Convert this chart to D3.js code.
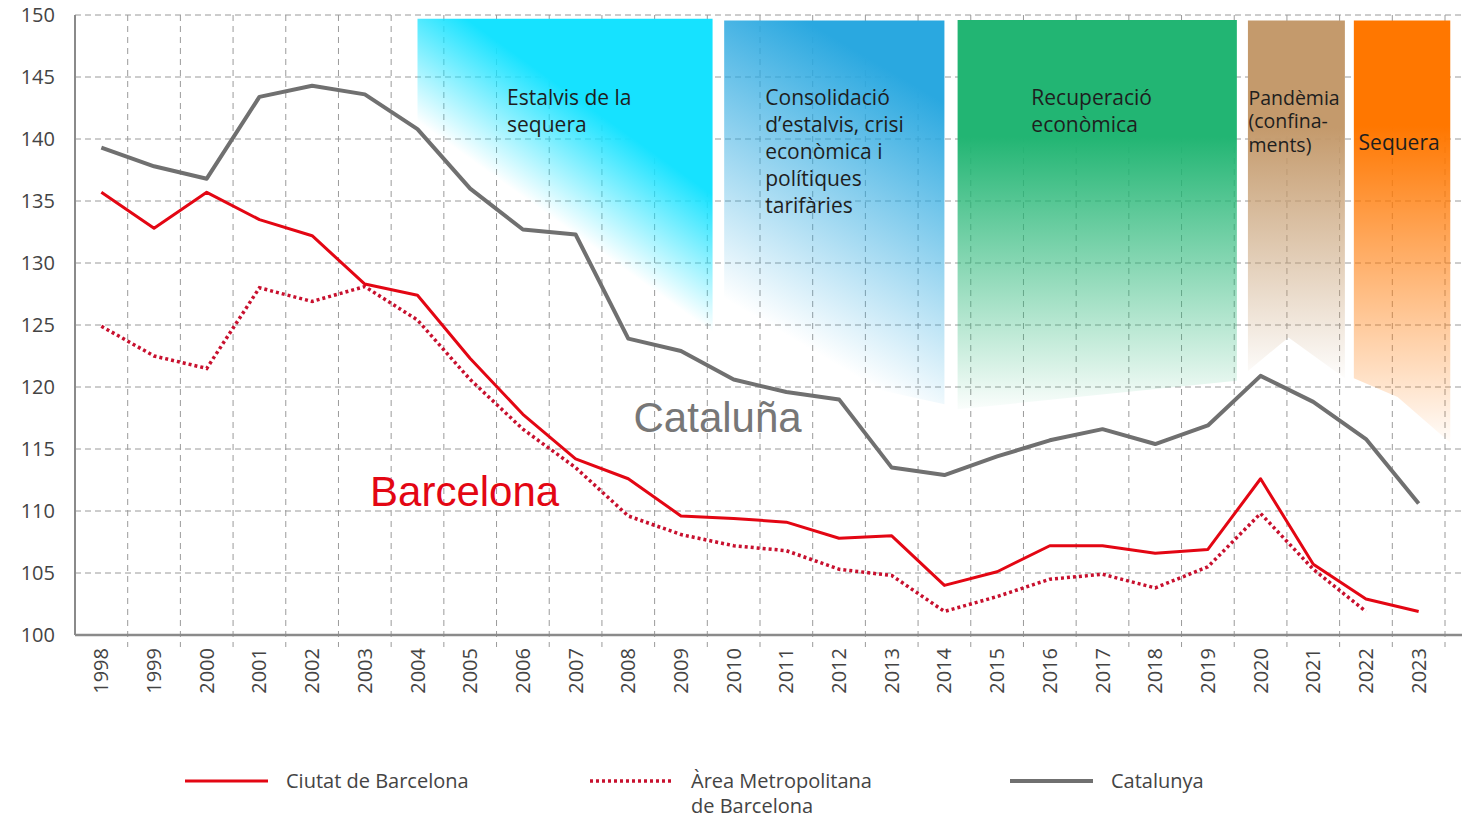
<!DOCTYPE html>
<html><head><meta charset="utf-8">
<script src="https://cdn.jsdelivr.net/npm/d3@7"></script>
<style>
html,body{margin:0;padding:0;background:#fff;}
svg{display:block;}
</style></head>
<body>
<svg id="chart" width="1473" height="818"></svg>
<script>
const years = d3.range(1998, 2024);
const catalunya = [139.3,137.8,136.8,143.4,144.3,143.6,140.8,136.0,132.7,132.3,123.9,122.9,120.6,119.6,119.0,113.5,112.9,114.4,115.7,116.6,115.4,116.9,120.9,118.8,115.8,110.6];
const barcelona = [135.7,132.8,135.7,133.5,132.2,128.3,127.4,122.3,117.8,114.2,112.6,109.6,109.4,109.1,107.8,108.0,104.0,105.1,107.2,107.2,106.6,106.9,112.6,105.7,102.9,101.9];
const amb = [124.9,122.5,121.5,128.0,126.9,128.1,125.4,120.6,116.6,113.5,109.6,108.1,107.2,106.8,105.3,104.8,101.9,103.1,104.5,104.9,103.8,105.5,109.8,105.3,101.9];
const yTicks = [100,105,110,115,120,125,130,135,140,145,150];

const periodNames = [["Estalvis de la","sequera"],["Consolidació","d’estalvis, crisi","econòmica i","polítiques","tarifàries"],["Recuperació","econòmica"],["Pandèmia","(confina-","ments)"],["Sequera"]];
const periodColors = ["#16e2ff","#2aa8e0","#22b573","#c49a6c","#ff7700"];
const periodStart = [2004.0, 2009.82, 2014.25, 2019.76, 2021.77];
const periodEnd = [2009.6, 2014.0, 2019.55, 2021.6, 2023.6];
// lower edges of the shaded periods, as [year, value] pairs
const periodBottom = [
  [[2004.0,141.4],[2009.6,124.4]],
  [[2009.82,122.5],[2014.0,118.6]],
  [[2014.25,118.2],[2019.55,120.5]],
  [[2019.76,121.3],[2020.53,124.0],[2021.6,120.7]],
  [[2021.77,120.7],[2022.6,119.2],[2023.6,115.5]]
];
const periodTop = [149.7, 149.55, 149.6, 149.55, 149.55];
const periodLabelYear = [2005.7, 2010.6, 2015.65, 2019.77, 2021.86];
const periodLabelValue = [142.75, 142.75, 142.75, 142.75, 139.1];
const periodLineGap = [27, 27, 27, 23.5, 27];
const periodDiagonal = [true, true, false, false, false];
const periodFadeLength = [112, 330, 0, 0, 0];
const periodFadeStart = [0, 0.15, 0, 0, 0];
const periodFadeDir = [null, [130, -220], null, null, null];

const legendNames = [["Ciutat de Barcelona"],["Àrea Metropolitana","de Barcelona"],["Catalunya"]];

const svg = d3.select("#chart");
const x = d3.scaleLinear().domain([1997.5, 2023.5]).range([75, 1445]);
const y = d3.scaleLinear().domain([100, 150]).range([635, 15]);

const defs = svg.append("defs");
periodColors.forEach((c, i) => {
  const g = defs.append("linearGradient").attr("id", "grad" + i);
  if (periodDiagonal[i]) {
    const b = periodBottom[i];
    const ax = x(b[0][0]), ay = y(b[0][1]), bx = x(b[1][0]), by = y(b[1][1]);
    let nx, ny;
    if (periodFadeDir[i]) {
      const l = Math.hypot(periodFadeDir[i][0], periodFadeDir[i][1]);
      nx = periodFadeDir[i][0] / l; ny = periodFadeDir[i][1] / l;
    } else {
      const dx = bx - ax, dy = by - ay, len = Math.hypot(dx, dy);
      nx = dy / len; ny = -dx / len;
    }
    const L = periodFadeLength[i];
    g.attr("gradientUnits", "userSpaceOnUse")
      .attr("x1", ax).attr("y1", ay).attr("x2", ax + nx * L).attr("y2", ay + ny * L);
    g.append("stop").attr("offset", periodFadeStart[i]).attr("stop-color", c).attr("stop-opacity", 0);
    g.append("stop").attr("offset", 1).attr("stop-color", c).attr("stop-opacity", 1);
  } else {
    g.attr("x1", 0).attr("y1", 0).attr("x2", 0).attr("y2", 1);
    g.append("stop").attr("offset", 0).attr("stop-color", c);
    g.append("stop").attr("offset", i === 4 ? 0.25 : 0.3).attr("stop-color", c);
    g.append("stop").attr("offset", 1).attr("stop-color", c).attr("stop-opacity", 0.02);
  }
});

// gridlines
const grid = svg.append("g");
grid.selectAll("line.h").data(yTicks.filter(v => v > 100)).join("line")
  .attr("x1", x(1997.5)).attr("x2", 1462)
  .attr("y1", d => y(d)).attr("y2", d => y(d))
  .attr("stroke", "#9a9a9a").attr("stroke-width", 1).attr("stroke-dasharray", "6,4");
grid.selectAll("line.v").data(d3.range(1998.5, 2024, 1)).join("line")
  .attr("x1", d => x(d)).attr("x2", d => x(d))
  .attr("y1", y(150)).attr("y2", y(100) + 12)
  .attr("stroke", "#9a9a9a").attr("stroke-width", 1).attr("stroke-dasharray", "6,5");

// shaded periods
const pg = svg.append("g");
periodColors.forEach((c, i) => {
  const pts = [[periodStart[i], periodTop[i]], [periodEnd[i], periodTop[i]]]
    .concat(periodBottom[i].slice().reverse());
  pg.append("path")
    .attr("d", d3.line().x(d => x(d[0])).y(d => y(d[1]))(pts) + "Z")
    .attr("fill", "url(#grad" + i + ")");
  const t = pg.append("text")
    .attr("x", x(periodLabelYear[i])).attr("y", y(periodLabelValue[i]))
    .attr("font-family", "'Open Sans', sans-serif").attr("font-size", i === 3 ? 19.5 : 21)
    .attr("fill", "#1e1e1e");
  periodNames[i].forEach((s, k) => {
    t.append("tspan").attr("x", x(periodLabelYear[i])).attr("dy", k === 0 ? 0 : periodLineGap[i]).text(s);
  });
});

// axes
svg.append("line").attr("x1", x(1997.5)).attr("x2", x(1997.5)).attr("y1", y(150)).attr("y2", y(100))
  .attr("stroke", "#8a8a8a").attr("stroke-width", 2);
svg.append("line").attr("x1", x(1997.5)).attr("x2", 1462).attr("y1", y(100)).attr("y2", y(100))
  .attr("stroke", "#8a8a8a").attr("stroke-width", 2.5);

svg.append("g").selectAll("text").data(yTicks).join("text")
  .attr("x", 55).attr("y", d => y(d)).attr("dy", "0.35em")
  .attr("text-anchor", "end").attr("font-family", "'Open Sans', sans-serif")
  .attr("font-size", 20).attr("fill", "#444").text(d => d);

svg.append("g").selectAll("text").data(years).join("text")
  .attr("transform", d => `translate(${x(d)},648) rotate(-90)`)
  .attr("dy", "0.35em").attr("text-anchor", "end")
  .attr("font-family", "'Open Sans', sans-serif").attr("font-size", 20)
  .attr("fill", "#444").text(d => d);

// lines
const line = d3.line().x((d, i) => x(years[i])).y(d => y(d));
svg.append("path").attr("d", line(catalunya)).attr("fill", "none")
  .attr("stroke", "#707070").attr("stroke-width", 4).attr("stroke-linejoin", "round");
svg.append("path").attr("d", line(amb)).attr("fill", "none")
  .attr("stroke", "#c8102e").attr("stroke-width", 3.5).attr("stroke-dasharray", "3,3");
svg.append("path").attr("d", line(barcelona)).attr("fill", "none")
  .attr("stroke", "#e30613").attr("stroke-width", 3).attr("stroke-linejoin", "round");

// big labels
svg.append("text").attr("x", x(2008.1)).attr("y", y(116.4))
  .attr("font-family", "'Liberation Sans', Arial, sans-serif").attr("font-size", 42)
  .attr("fill", "#777").text("Cataluña");
svg.append("text").attr("x", x(2003.1)).attr("y", y(110.4))
  .attr("font-family", "'Liberation Sans', Arial, sans-serif").attr("font-size", 42)
  .attr("fill", "#e30613").text("Barcelona");

// legend
const lg = svg.append("g");
const legX = [185, 590, 1010];
const legStyle = [{c:"#e30613", w:3, d:null},{c:"#c8102e", w:3.5, d:"3,3"},{c:"#707070", w:4, d:null}];
legendNames.forEach((names, i) => {
  lg.append("line").attr("x1", legX[i]).attr("x2", legX[i] + 83).attr("y1", 781).attr("y2", 781)
    .attr("stroke", legStyle[i].c).attr("stroke-width", legStyle[i].w)
    .attr("stroke-dasharray", legStyle[i].d);
  const t = lg.append("text").attr("x", legX[i] + 101).attr("y", 781)
    .attr("font-family", "'Open Sans', sans-serif").attr("font-size", 20).attr("fill", "#444");
  names.forEach((s, k) => t.append("tspan").attr("x", legX[i] + 101).attr("dy", k === 0 ? "0.35em" : 25).text(s));
});
</script>
</body></html>
